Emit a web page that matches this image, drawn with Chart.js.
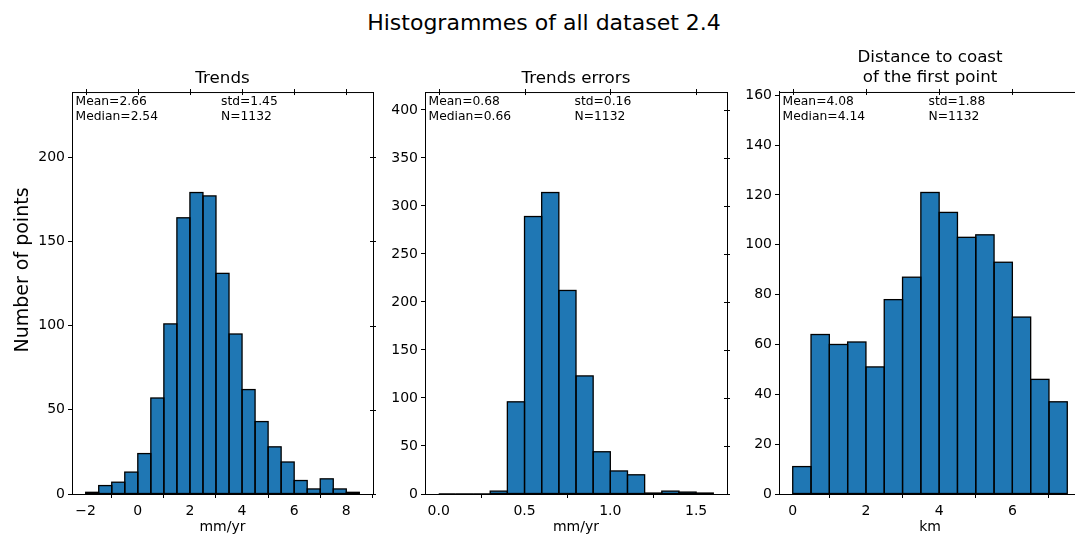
<!DOCTYPE html>
<html>
<head>
<meta charset="utf-8">
<script src="https://cdn.jsdelivr.net/npm/chart.js@4.4.1/dist/chart.umd.min.js"></script>
<style>
html, body { margin: 0; padding: 0; overflow: hidden; background: #fff; width: 1075px; height: 537px; }
canvas { position: absolute; top: 0; }
#suptitle { position: absolute; left: 0; top: 10px; width: 1088px; text-align: center;
    font-family: "DejaVu Sans"; font-size: 22px; line-height: 26px; color: #000; }
#supylabel { position: absolute; left: 21px; top: 270px; width: 240px; margin-left: -120px; margin-top: -12px;
    text-align: center; font-family: "DejaVu Sans"; font-size: 19px; line-height: 24px; color: #000;
    transform: rotate(-90deg); white-space: nowrap; }
</style>
</head>
<body>
<div id="suptitle">Histogrammes of all dataset 2.4</div>
<canvas id="c1" width="381" height="537" style="left:0px"></canvas>
<canvas id="c2" width="355" height="537" style="left:380px"></canvas>
<canvas id="c3" width="355" height="537" style="left:734px"></canvas>
<div id="supylabel">Number of points</div>
<script>
// bin edges and counts
const trendEdges = [-2, -1.5, -1, -0.5, 0, 0.5, 1, 1.5, 2, 2.5, 3, 3.5, 4, 4.5, 5, 5.5, 6, 6.5, 7, 7.5, 8, 8.5];
const trendCounts = [1, 5, 7, 13, 24, 57, 101, 164, 179, 177, 131, 95, 62, 43, 28, 19, 8, 3, 9, 3, 1];

const errorEdges = [0, 0.1, 0.2, 0.3, 0.4, 0.5, 0.6, 0.7, 0.8, 0.9, 1.0, 1.1, 1.2, 1.3, 1.4, 1.5, 1.6];
const errorCounts = [0, 0, 0, 3, 96, 289, 314, 212, 123, 44, 24, 20, 1, 3, 2, 1];

const distEdges = [0, 0.5, 1, 1.5, 2, 2.5, 3, 3.5, 4, 4.5, 5, 5.5, 6, 6.5, 7, 7.5];
const distCounts = [11, 64, 60, 61, 51, 78, 87, 121, 113, 103, 104, 93, 71, 46, 37];

// text of each panel
const panelTitles = ["Trends", "Trends errors", ["Distance to coast", "of the first point"]];
const xTitles = ["mm/yr", "mm/yr", "km"];
const means = ["2.66", "0.68", "4.08"];
const medians = ["2.54", "0.66", "4.14"];
const stds = ["1.45", "0.16", "1.88"];
const sizes = ["1132", "1132", "1132"];

Chart.defaults.font.family = "DejaVu Sans";
Chart.defaults.color = "#000";

function toPoints(edges, counts)
{
    return counts.map((c, i) => ({ x: (edges[i] + edges[i + 1]) / 2, y: c }));
}

// black outline round each bar, centred on the bin edges like matplotlib does
const edgePlugin = {
    id: "edges",
    afterDatasetsDraw(chart)
    {
        const ctx = chart.ctx;
        const meta = chart.getDatasetMeta(0);
        ctx.save();
        ctx.strokeStyle = "#000";
        ctx.lineWidth = 1.3;
        meta.data.forEach(bar =>
        {
            const { x, y, base, width } = bar.getProps(["x", "y", "base", "width"], true);
            ctx.strokeRect(x - width / 2, y, width, base - y);
        });
        ctx.restore();
    }
};

// top/right spines with their ticks, plus the stats text
const framePlugin = {
    id: "frame",
    afterDraw(chart, args, opts)
    {
        const { ctx, chartArea: a, scales: { x, y } } = chart;
        ctx.save();
        ctx.strokeStyle = "#000";
        ctx.lineWidth = 1;
        ctx.beginPath();
        ctx.moveTo(a.left, a.top + 0.5);
        ctx.lineTo(a.right + 1, a.top + 0.5);
        ctx.moveTo(a.right + 0.5, a.top);
        ctx.lineTo(a.right + 0.5, a.bottom + 1);
        x.ticks.forEach(t =>
        {
            const px = Math.round(x.getPixelForValue(t.value)) + 0.5;
            ctx.moveTo(px, a.top - 3);
            ctx.lineTo(px, a.top + 3);
        });
        y.ticks.forEach(t =>
        {
            const py = Math.round(y.getPixelForValue(t.value)) + 0.5;
            ctx.moveTo(a.right - 3, py);
            ctx.lineTo(a.right + 3, py);
        });
        ctx.stroke();

        const w = a.right - a.left;
        ctx.fillStyle = "#000";
        ctx.font = "12.3px 'DejaVu Sans'";
        ctx.textBaseline = "alphabetic";
        ctx.textAlign = "left";
        const x1 = a.left + 0.012 * w;
        const x2 = a.left + 0.495 * w;
        ctx.fillText("Mean=" + opts.mean, x1, a.top + 12.7);
        ctx.fillText("Median=" + opts.median, x1, a.top + 27.7);
        ctx.fillText("std=" + opts.std, x2, a.top + 12.7);
        ctx.fillText("N=" + opts.n, x2, a.top + 27.7);
        ctx.restore();
    }
};

function makePanel(id, k, edges, counts, xr, xStep, yMax, yStep, yWidth, titlePad, xFormat)
{
    const ctx = document.getElementById(id);
    return new Chart(ctx,
    {
        type: "bar",
        data: {
            datasets: [{
                data: toPoints(edges, counts),
                backgroundColor: "#1f77b4",
                borderWidth: 0,
                inflateAmount: 0,
                barPercentage: 1.0,
                categoryPercentage: 1.0
            }]
        },
        options: {
            responsive: false,
            animation: false,
            layout: { padding: { top: 0, right: 8, left: 0, bottom: 0 } },
            plugins: {
                legend: { display: false },
                tooltip: { enabled: false },
                title: {
                    display: true,
                    text: panelTitles[k],
                    fullSize: false,
                    color: "#000",
                    font: { size: 16.7, weight: "normal", lineHeight: 1.2 },
                    padding: titlePad
                },
                frame: { mean: means[k], median: medians[k], std: stds[k], n: sizes[k] }
            },
            scales: {
                x: {
                    type: "linear",
                    offset: false,
                    min: xr[0],
                    max: xr[1],
                    afterFit: s => { s.height = 43; },
                    grid: { drawOnChartArea: false, drawTicks: true, tickLength: 4, color: "#000" },
                    border: { display: true, color: "#000", width: 1 },
                    ticks: {
                        stepSize: xStep,
                        includeBounds: false,
                        padding: 5,
                        maxRotation: 0,
                        font: { size: 14 },
                        callback: xFormat
                    },
                    title: { display: true, text: xTitles[k], font: { size: 14 }, padding: { top: 0, bottom: 1 } }
                },
                y: {
                    min: 0,
                    max: yMax,
                    afterFit: s => { s.width = yWidth; },
                    grid: { drawOnChartArea: false, drawTicks: true, tickLength: 4, color: "#000" },
                    border: { display: true, color: "#000", width: 1 },
                    ticks: { stepSize: yStep, includeBounds: false, padding: 3, font: { size: 14 } }
                }
            }
        },
        plugins: [edgePlugin, framePlugin]
    });
}

const minusFormat = v => (v < 0 ? "\u2212" + Math.abs(v) : String(v));
const oneDecimal = v => v.toFixed(1);

makePanel("c1", 0, trendEdges, trendCounts, [-2.525, 9.025], 2, 238.67, 50, 72,
    { top: 68.5, bottom: 3.5 }, minusFormat);
makePanel("c2", 1, errorEdges, errorCounts, [-0.08, 1.68], 0.5, 418.67, 50, 45,
    { top: 68.5, bottom: 3.5 }, oneDecimal);
makePanel("c3", 2, distEdges, distCounts, [-0.375, 7.875], 2, 161.33, 20, 45,
    { top: 48, bottom: 3.9 }, minusFormat);
</script>
</body>
</html>
